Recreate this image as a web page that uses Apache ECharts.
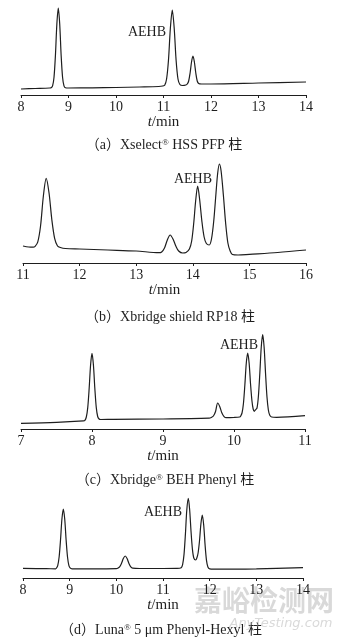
<!DOCTYPE html>
<html>
<head>
<meta charset="utf-8">
<script src="https://cdn.jsdelivr.net/npm/echarts@6/dist/echarts.min.js"></script>
<style>html,body{margin:0;padding:0;background:#fff;}#c{width:345px;height:643px;}</style>
</head>
<body>
<div id="c"></div>
<script>
// ---- Data (time in min, detector signal in arbitrary units) ----
const aTime = [8.0, 8.3, 8.6, 8.635, 8.665, 8.695, 8.725, 8.755, 8.785, 8.815, 8.845, 8.875, 8.905, 8.935, 9.0, 9.5, 10.0, 10.5, 10.9, 10.985, 11.025, 11.065, 11.105, 11.145, 11.185, 11.225, 11.265, 11.305, 11.345, 11.4, 11.47, 11.5, 11.53, 11.56, 11.59, 11.62, 11.65, 11.68, 11.71, 11.74, 11.8, 12.0, 13.0, 14.0];
const aSignal = [6, 6.5, 7, 7.3, 9.2, 17.8, 39.8, 71, 87, 71, 39.8, 17.8, 9.2, 7.3, 7, 7.2, 7.5, 8, 8.5, 9, 9.8, 16, 35, 67, 85, 67, 35, 16, 10.5, 9.5, 10, 11, 14, 22, 33, 39, 33, 22, 14, 11.5, 11, 11, 12, 13];

const bTime = [11.0, 11.1, 11.18, 11.21, 11.26, 11.31, 11.36, 11.41, 11.46, 11.51, 11.56, 11.61, 11.66, 11.75, 12.0, 12.5, 13.0, 13.4, 13.45, 13.5, 13.55, 13.6, 13.65, 13.7, 13.75, 13.82, 13.88, 13.94, 13.98, 14.02, 14.05, 14.086, 14.12, 14.16, 14.2, 14.24, 14.29, 14.33, 14.37, 14.41, 14.44, 14.47, 14.5, 14.54, 14.58, 14.62, 14.66, 14.7, 14.8, 15.0, 15.5, 16.0];
const bSignal = [17, 16, 15.8, 16.4, 20.8, 37, 67, 84.7, 70, 43, 24.3, 17, 15.5, 14.5, 14, 13, 12, 10.3, 11, 15, 23, 28, 24, 17, 12, 10, 10.5, 14, 22, 42, 62, 77, 64, 42, 26, 19.5, 18, 24, 42, 70, 90, 99, 92, 68, 40, 20, 12, 8.5, 8, 8.7, 10.5, 13];

const cTime = [7.0, 7.5, 7.88, 7.9, 7.92, 7.94, 7.96, 7.98, 8.0, 8.02, 8.04, 8.06, 8.08, 8.1, 8.12, 8.3, 9.0, 9.65, 9.68, 9.71, 9.74, 9.77, 9.8, 9.83, 9.86, 9.89, 10.0, 10.08, 10.093, 10.113, 10.133, 10.153, 10.173, 10.193, 10.213, 10.233, 10.253, 10.27, 10.286, 10.3, 10.324, 10.344, 10.364, 10.384, 10.404, 10.424, 10.444, 10.464, 10.484, 10.504, 10.53, 10.6, 11.0];
const cSignal = [5.7, 6.7, 8.2, 8.7, 12, 21.4, 40.5, 64, 75.7, 64, 40.5, 21.6, 12.5, 10, 9.5, 9.7, 10, 10.8, 11.5, 13, 17.5, 26, 22.3, 15.9, 12.4, 11.3, 11.5, 12, 12.8, 16, 25.5, 44, 65.8, 76, 66, 45, 28, 20, 17.7, 19, 21, 33, 56, 82, 94.3, 82, 56, 32.5, 19, 13.7, 12, 11.7, 13.3];

const dTime = [8.0, 8.5, 8.7, 8.714, 8.744, 8.774, 8.804, 8.834, 8.864, 8.894, 8.924, 8.954, 8.984, 9.014, 9.05, 9.5, 10.0, 10.03, 10.07, 10.11, 10.15, 10.19, 10.23, 10.27, 10.31, 10.35, 10.5, 11.0, 11.3, 11.39, 11.42, 11.45, 11.48, 11.51, 11.542, 11.57, 11.6, 11.63, 11.66, 11.7, 11.725, 11.752, 11.782, 11.812, 11.842, 11.872, 11.902, 11.932, 11.962, 12.0, 12.2, 13.0, 14.0];
const dSignal = [9.7, 9.3, 9.2, 9.7, 12.4, 21, 38, 59, 69, 59, 38, 21, 12.4, 9.8, 9.2, 9.2, 9.4, 9.8, 11.2, 14.6, 19.5, 22, 19.5, 14.6, 11.2, 9.9, 9.5, 9.5, 9.6, 10.3, 13.4, 23.4, 43.6, 68, 79.7, 69, 47, 29, 20, 18, 20, 25, 37, 54, 63, 53, 33, 17.6, 11, 9.2, 8.8, 9.2, 10.3];

const xRanges = [[8, 14], [11, 16], [7, 11], [8, 14]];
const peakLabel = 'AEHB';
const captions = [
  ['（a）Xselect', '®', ' HSS PFP 柱'],
  ['（b）Xbridge shield RP18 柱', '', ''],
  ['（c）Xbridge', '®', ' BEH Phenyl 柱'],
  ['（d）Luna', '®', ' 5 μm Phenyl-Hexyl 柱']
];
const watermark = ['嘉峪检测网', 'AnyTesting.com'];

// ---- Layout ----
const SERIF = '"Liberation Serif", "Times New Roman", serif';
const CJK = '"Liberation Serif", "Noto Sans CJK SC", serif';
const INK = '#1e1e1e';
const grids = [
  {left: 21, width: 285, top: 5, height: 90},
  {left: 23, width: 283, top: 163, height: 100},
  {left: 21, width: 284, top: 329, height: 100},
  {left: 23, width: 280, top: 478, height: 100}
];
const yMax = [90, 100, 100, 100];
const nameGaps = [16, 20, 17, 17];
const labelPos = [[147, 32], [193, 179], [239, 345], [163, 512]];
const captionPos = [[164, 145], [170, 317], [165, 480], [161, 630]];

const sets = [[aTime, aSignal], [bTime, bSignal], [cTime, cSignal], [dTime, dSignal]];

const xAxes = xRanges.map((r, i) => ({
  type: 'value', gridIndex: i, min: r[0], max: r[1], interval: 1,
  axisLine: {show: true, onZero: false, lineStyle: {color: INK, width: 1}},
  axisTick: {show: true, length: 3, lineStyle: {color: INK}},
  splitLine: {show: false},
  axisLabel: {color: INK, fontFamily: SERIF, fontSize: 14, margin: 5},
  name: '{it|t}/min', nameLocation: 'middle', nameGap: nameGaps[i],
  nameTextStyle: {color: INK, fontFamily: SERIF, fontSize: 15,
    rich: {it: {fontStyle: 'italic', fontFamily: SERIF, fontSize: 15, color: INK}}}
}));
const yAxes = yMax.map((m, i) => ({
  type: 'value', gridIndex: i, min: 0, max: m, show: false
}));
const series = sets.map((s, i) => ({
  type: 'line', xAxisIndex: i, yAxisIndex: i,
  data: s[0].map((t, k) => [t, s[1][k]]),
  showSymbol: false, smooth: 0.3, silent: true,
  lineStyle: {color: INK, width: 1.2}
}));

const graphics = [];
labelPos.forEach(p => graphics.push({
  type: 'text', x: p[0], y: p[1],
  style: {text: peakLabel, fill: INK, font: '14px ' + SERIF, textAlign: 'center', textVerticalAlign: 'middle'}
}));
captions.forEach((c, i) => graphics.push({
  type: 'text', x: captionPos[i][0], y: captionPos[i][1],
  style: {
    text: '{m|' + c[0] + '}' + (c[1] ? '{s|' + c[1] + '}' : '') + (c[2] ? '{m|' + c[2] + '}' : ''),
    textAlign: 'center', textVerticalAlign: 'middle',
    rich: {
      m: {fontFamily: CJK, fontSize: 14, fill: INK, color: INK, verticalAlign: 'bottom'},
      s: {fontFamily: SERIF, fontSize: 9, fill: INK, color: INK, verticalAlign: 'top'}
    }
  }
}));
graphics.push({
  type: 'text', x: 264, y: 600,
  style: {text: watermark[0], fill: 'rgba(170,170,170,0.45)', font: 'bold 28px "Noto Sans CJK SC"', textAlign: 'center', textVerticalAlign: 'middle'}
});
graphics.push({
  type: 'text', x: 281, y: 624,
  style: {text: watermark[1], fill: 'rgba(170,170,170,0.45)', font: 'italic 13px "DejaVu Sans"', textAlign: 'center', textVerticalAlign: 'middle'}
});

const chart = echarts.init(document.getElementById('c'), null, {renderer: 'canvas'});
chart.setOption({
  animation: false,
  backgroundColor: '#fff',
  grid: grids.map(g => Object.assign({containLabel: false}, g)),
  xAxis: xAxes,
  yAxis: yAxes,
  series: series,
  graphic: graphics
});
</script>
</body>
</html>
